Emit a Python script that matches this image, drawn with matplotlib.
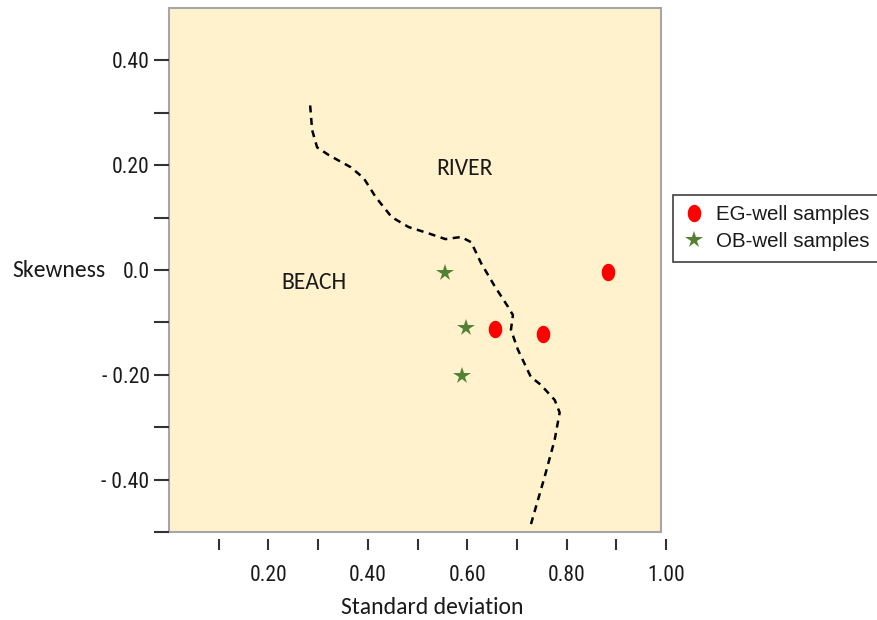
import matplotlib
matplotlib.use("Agg")
import matplotlib.pyplot as plt
from matplotlib.patches import Rectangle
from matplotlib.path import Path
import numpy as np

# ---- data ----
eg_sd = [0.656, 0.752, 0.884]
eg_sk = [-0.112, -0.122, -0.004]
ob_sd = [0.556, 0.598, 0.590]
ob_sk = [-0.006, -0.110, -0.202]

boundary_sd = [0.284, 0.288, 0.298, 0.322, 0.366, 0.392, 0.416, 0.448, 0.482, 0.522,
               0.556, 0.588, 0.608, 0.628, 0.656, 0.682, 0.692, 0.688, 0.702, 0.728,
               0.748, 0.776, 0.786, 0.776, 0.756, 0.728]
boundary_sk = [0.314, 0.267, 0.234, 0.219, 0.196, 0.175, 0.139, 0.101, 0.082, 0.070,
               0.059, 0.063, 0.053, 0.013, -0.032, -0.070, -0.086, -0.114, -0.152, -0.204,
               -0.219, -0.248, -0.272, -0.324, -0.394, -0.486]

x_major = [0.2, 0.4, 0.6, 0.8, 1.0]
x_major_labels = ["0.20", "0.40", "0.60", "0.80", "1.00"]
x_minor = [0.1, 0.3, 0.5, 0.7, 0.9]
y_major = [0.4, 0.2, 0.0, -0.2, -0.4]
y_major_labels = ["0.40", "0.20", "0.0", "- 0.20", "- 0.40"]
y_minor = [0.3, 0.1, -0.1, -0.3, -0.5]

W, H = 877, 620
fig = plt.figure(figsize=(W / 100, H / 100), dpi=100)
ax = fig.add_axes([169 / W, 1 - 532 / H, (666 - 169) / W, (532 - 8) / H])
ax.set_xlim(0, 1.0)
ax.set_ylim(-0.5, 0.5)
ax.set_facecolor("none")
for s in ax.spines.values():
    s.set_visible(False)
ax.spines["bottom"].set_position(("outward", 5))

# plot area box (ends at 0.99)
ax.add_patch(Rectangle((0, -0.5), 0.99, 1.0, facecolor="#FFF2CC", edgecolor="#A6A6A6",
                       linewidth=1.5, zorder=0, clip_on=False))

tick_font = ["Roboto Condensed", "Archivo Narrow", "Liberation Sans", "DejaVu Sans"]
ax.set_xticks(x_major, x_major_labels)
ax.set_xticks(x_minor, minor=True)
ax.set_yticks(y_major, y_major_labels)
ax.set_yticks(y_minor, minor=True)
ax.tick_params(axis="x", which="both", direction="out", length=8, width=1.5,
               color="#333333", pad=11, labelsize=15.5)
ax.tick_params(axis="y", which="both", direction="out", length=11, width=1.5,
               color="#333333", pad=3, labelsize=15.5)
for lab in ax.get_xticklabels() + ax.get_yticklabels():
    lab.set_family(tick_font)
    lab.set_color("#1a1a1a")

# boundary
ax.plot(boundary_sd, boundary_sk, color="black", linewidth=1.8, dashes=(2.8, 2.2), zorder=2)

# ellipse marker
t = np.linspace(0, 2 * np.pi, 60)
ell = Path(np.column_stack([0.78 * np.cos(t), np.sin(t)]), closed=True)

ax.plot(eg_sd, eg_sk, linestyle="none", marker=ell, markersize=12.5, color="#FF0000",
        markeredgewidth=0, label="EG-well samples", zorder=3)
ax.plot(ob_sd, ob_sk, linestyle="none", marker="*", markersize=13, color="#548235",
        markeredgewidth=0, label="OB-well samples", zorder=3)

label_font = ["Carlito", "Lato", "DejaVu Sans"]
ax.text(0.594, 0.194, "RIVER", fontsize=17, family=label_font, ha="center", va="center",
        color="#1a1a1a")
ax.text(0.292, -0.023, "BEACH", fontsize=17, family=label_font, ha="center", va="center",
        color="#1a1a1a")

fig.text(432 / W, 1 - 607 / H, "Standard deviation", fontsize=17, family=label_font,
         ha="center", va="center", color="#1a1a1a")
fig.text(59 / W, 1 - 270 / H, "Skewness", fontsize=17, family=label_font,
         ha="center", va="center", color="#1a1a1a")

leg = ax.legend(loc="upper left", bbox_to_anchor=(673 / W, 1 - 195 / H),
                bbox_transform=fig.transFigure, borderaxespad=0, fancybox=False,
                edgecolor="#404040", framealpha=1, handlelength=1.0, handletextpad=0.6,
                labelspacing=0.4, borderpad=0.5,
                prop={"family": ["Liberation Sans", "DejaVu Sans"], "size": 14.8})
leg.get_frame().set_linewidth(1.2)
for tx in leg.get_texts():
    tx.set_color("#1a1a1a")

fig.savefig("out.png", dpi=100)
